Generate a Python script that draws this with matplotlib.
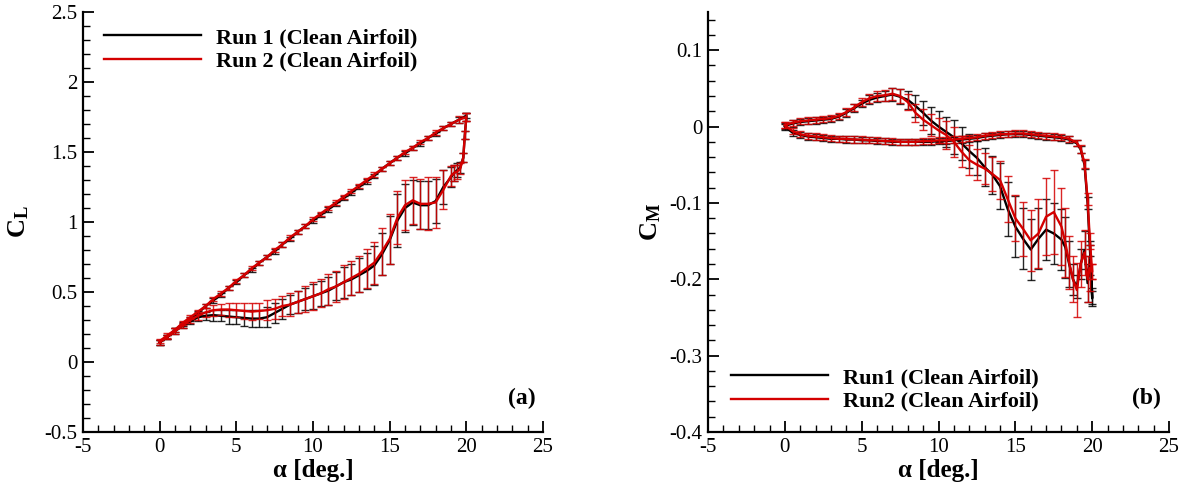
import numpy as np
import matplotlib
matplotlib.use('Agg')
import matplotlib.pyplot as plt
from matplotlib.ticker import MultipleLocator, FormatStrFormatter

plt.rcParams['font.family'] = 'Liberation Serif'
plt.rcParams['mathtext.fontset'] = 'custom'
plt.rcParams['mathtext.rm'] = 'Liberation Serif'
plt.rcParams['mathtext.bf'] = 'Liberation Serif:bold'
plt.rcParams['axes.unicode_minus'] = False

# ---- lift coefficient, pitch up ----
alpha_up = [0, 0.5, 1, 1.5, 2, 2.5, 3, 3.5, 4, 4.5, 5, 5.5, 6, 6.5, 7, 7.5, 8, 8.5, 9, 9.5,
            10, 10.5, 11, 11.5, 12, 12.5, 13, 13.5, 14, 14.5, 15, 15.5, 16, 16.5, 17, 17.5,
            18, 18.5, 19, 19.5, 20]
cl1_up = [0.14, 0.18, 0.23, 0.27, 0.31, 0.35, 0.40, 0.44, 0.48, 0.53, 0.57, 0.62, 0.66, 0.71,
          0.75, 0.79, 0.84, 0.88, 0.93, 0.97, 1.01, 1.05, 1.09, 1.13, 1.17, 1.21, 1.25, 1.29,
          1.33, 1.38, 1.42, 1.46, 1.49, 1.53, 1.56, 1.60, 1.63, 1.67, 1.70, 1.73, 1.76]
cl2_up = [0.15, 0.19, 0.23, 0.28, 0.32, 0.36, 0.40, 0.45, 0.49, 0.53, 0.58, 0.62, 0.67, 0.71,
          0.75, 0.80, 0.84, 0.89, 0.93, 0.97, 1.02, 1.06, 1.10, 1.14, 1.18, 1.22, 1.26, 1.30,
          1.34, 1.38, 1.42, 1.46, 1.50, 1.53, 1.57, 1.60, 1.64, 1.67, 1.70, 1.73, 1.75]
cl1_up_err = [0.015] * 39 + [0.02, 0.02]
cl2_up_err = [0.015] * 39 + [0.025, 0.03]

# ---- lift coefficient, pitch down ----
alpha_dn = [20, 19.9, 19.8, 19.6, 19.4, 19.2, 19, 18.5, 18, 17.5, 17, 16.5, 16, 15.5, 15,
            14.5, 14, 13.5, 13, 12.5, 12, 11.5, 11, 10.5, 10, 9.5, 9, 8.5, 8, 7.5, 7, 6.5,
            6, 5.5, 5, 4.5, 4, 3.5, 3, 2.5, 2, 1.5, 1, 0.5, 0]
cl1_dn = [1.75, 1.62, 1.46, 1.39, 1.37, 1.35, 1.32, 1.25, 1.15, 1.12, 1.12, 1.14, 1.10, 1.01,
          0.87, 0.77, 0.69, 0.65, 0.62, 0.59, 0.57, 0.54, 0.51, 0.49, 0.47, 0.45, 0.43, 0.41,
          0.38, 0.35, 0.32, 0.31, 0.31, 0.315, 0.32, 0.325, 0.33, 0.335, 0.33, 0.32, 0.29,
          0.26, 0.22, 0.18, 0.14]
cl2_dn = [1.75, 1.62, 1.46, 1.38, 1.36, 1.35, 1.33, 1.23, 1.14, 1.13, 1.13, 1.155, 1.12, 1.03,
          0.88, 0.79, 0.71, 0.67, 0.63, 0.60, 0.57, 0.54, 0.52, 0.49, 0.47, 0.45, 0.43, 0.41,
          0.40, 0.38, 0.37, 0.365, 0.36, 0.365, 0.37, 0.375, 0.375, 0.37, 0.355, 0.33, 0.30,
          0.26, 0.22, 0.18, 0.14]
cl1_dn_err = [0.03, 0.03, 0.03, 0.04, 0.05, 0.06, 0.07, 0.12, 0.16, 0.17, 0.17, 0.16, 0.17,
              0.19, 0.17, 0.15, 0.14, 0.13, 0.12, 0.11, 0.11, 0.10, 0.10, 0.09, 0.09, 0.08,
              0.08, 0.07, 0.07, 0.07, 0.07, 0.06, 0.06, 0.06, 0.05, 0.05, 0.04, 0.04, 0.03,
              0.03, 0.02, 0.02, 0.02, 0.015, 0.015]
cl2_dn_err = [0.03, 0.03, 0.03, 0.04, 0.05, 0.06, 0.07, 0.14, 0.18, 0.19, 0.18, 0.17, 0.18,
              0.19, 0.18, 0.17, 0.15, 0.14, 0.13, 0.12, 0.12, 0.11, 0.11, 0.10, 0.10, 0.09,
              0.08, 0.08, 0.07, 0.07, 0.07, 0.06, 0.06, 0.06, 0.05, 0.05, 0.04, 0.04, 0.03,
              0.03, 0.02, 0.02, 0.02, 0.015, 0.015]

# ---- moment coefficient, pitch up ----
alpha_up_m = [0, 0.5, 1, 1.5, 2, 2.5, 3, 3.5, 4, 4.5, 5, 5.5, 6, 6.5, 7, 7.5, 8, 8.5, 9, 9.5,
              10, 10.5, 11, 11.5, 12, 12.5, 13, 13.5, 14, 14.5, 15, 15.5, 16, 16.5, 17, 17.5,
              18, 18.5, 19, 19.25, 19.5, 19.7, 19.85, 20]
cm1_up = [0.000, -0.008, -0.011, -0.013, -0.014, -0.015, -0.016, -0.016, -0.017, -0.017,
          -0.018, -0.018, -0.019, -0.019, -0.020, -0.020, -0.020, -0.020, -0.020, -0.020,
          -0.019, -0.019, -0.018, -0.017, -0.016, -0.015, -0.013, -0.012, -0.011, -0.010,
          -0.010, -0.010, -0.011, -0.012, -0.013, -0.014, -0.015, -0.017, -0.022,
          -0.030, -0.050, -0.100, -0.160, -0.222]
cm2_up = [0.002, -0.006, -0.010, -0.012, -0.013, -0.014, -0.015, -0.016, -0.016, -0.017,
          -0.017, -0.018, -0.018, -0.019, -0.019, -0.020, -0.020, -0.020, -0.019, -0.019,
          -0.018, -0.018, -0.017, -0.016, -0.015, -0.014, -0.012, -0.011, -0.010, -0.010,
          -0.009, -0.009, -0.010, -0.011, -0.012, -0.013, -0.014, -0.016, -0.021,
          -0.029, -0.048, -0.095, -0.150, -0.190]
cm1_up_err = [0.004] * 39 + [0.005, 0.006, 0.008, 0.01, 0.01]
cm2_up_err = [0.004] * 39 + [0.005, 0.006, 0.008, 0.01, 0.01]

# ---- moment coefficient, pitch down ----
alpha_dn_m = [20, 19.85, 19.7, 19.5, 19.25, 19.0, 18.75, 18.5, 18.25, 18, 17.5, 17, 16.5, 16,
              15.5, 15, 14.5, 14, 13.5, 13, 12.5, 12, 11.5, 11, 10.5, 10, 9.5, 9, 8.5, 8,
              7.5, 7, 6.5, 6, 5.5, 5, 4.5, 4, 3.5, 3, 2.5, 2, 1.5, 1, 0.5, 0]
cm1_dn = [-0.225, -0.175, -0.205, -0.162, -0.180, -0.210, -0.200, -0.180, -0.158, -0.148,
          -0.140, -0.135, -0.147, -0.161, -0.147, -0.131, -0.108, -0.078, -0.063, -0.053,
          -0.041, -0.032, -0.022, -0.014, -0.007, 0.000, 0.008, 0.018, 0.027, 0.035,
          0.039, 0.042, 0.040, 0.038, 0.035, 0.030, 0.024, 0.018, 0.013, 0.010,
          0.009, 0.008, 0.007, 0.006, 0.004, 0.001]
cm2_dn = [-0.190, -0.185, -0.200, -0.165, -0.180, -0.214, -0.200, -0.178, -0.152, -0.131,
          -0.112, -0.118, -0.140, -0.149, -0.134, -0.120, -0.095, -0.070, -0.062, -0.055,
          -0.050, -0.044, -0.033, -0.020, -0.011, -0.005, 0.002, 0.009, 0.018, 0.032,
          0.040, 0.043, 0.041, 0.040, 0.037, 0.032, 0.025, 0.019, 0.014, 0.011,
          0.010, 0.009, 0.008, 0.007, 0.005, 0.002]
cm1_dn_err = [0.010, 0.020, 0.025, 0.025, 0.020, 0.015, 0.020, 0.030, 0.040, 0.040,
              0.040, 0.040, 0.040, 0.040, 0.040, 0.040, 0.035, 0.030, 0.025, 0.025,
              0.022, 0.022, 0.022, 0.022, 0.020, 0.020, 0.018, 0.016, 0.014, 0.012,
              0.010, 0.008, 0.007, 0.006, 0.006, 0.005, 0.005, 0.005, 0.004, 0.004,
              0.004, 0.004, 0.004, 0.004, 0.004, 0.004]
cm2_dn_err = [0.010, 0.030, 0.030, 0.030, 0.030, 0.035, 0.030, 0.035, 0.045, 0.050,
              0.055, 0.050, 0.045, 0.040, 0.035, 0.030, 0.030, 0.025, 0.022, 0.020,
              0.020, 0.020, 0.020, 0.020, 0.018, 0.016, 0.015, 0.014, 0.012, 0.010,
              0.009, 0.008, 0.007, 0.006, 0.006, 0.005, 0.005, 0.005, 0.004, 0.004,
              0.004, 0.004, 0.004, 0.004, 0.004, 0.004]

BLACK = '#000000'
RED = '#d40000'


def loop(ax, a_up, a_dn, y_up, y_dn, e_up, e_dn, color, label):
    a = np.concatenate([a_up, a_dn])
    y = np.concatenate([y_up, y_dn])
    e = np.concatenate([e_up, e_dn])
    ax.errorbar(a, y, yerr=e, fmt='none', ecolor=color, elinewidth=1.0,
                capsize=3, capthick=1.0, alpha=0.85)
    ax.plot(a, y, color=color, lw=1.7, label=label)


def style(ax):
    ax.spines['top'].set_visible(False)
    ax.spines['right'].set_visible(False)
    ax.spines['left'].set_linewidth(1.6)
    ax.spines['bottom'].set_linewidth(1.6)
    ax.tick_params(which='major', direction='in', length=8, width=1.3,
                   labelsize=15, pad=4)
    ax.tick_params(which='minor', direction='in', length=5, width=1.0)
    ax.set_xlim(-5, 25)
    ax.xaxis.set_major_locator(MultipleLocator(5))
    ax.xaxis.set_minor_locator(MultipleLocator(1))
    ax.xaxis.set_major_formatter(FormatStrFormatter('%g'))
    ax.yaxis.set_major_formatter(FormatStrFormatter('%g'))
    ax.set_xlabel('α [deg.]', fontsize=18, fontweight='bold', labelpad=2)


fig = plt.figure(figsize=(11.89, 4.93), dpi=100)
ax1 = fig.add_axes([0.0698, 0.1237, 0.3869, 0.8519])
ax2 = fig.add_axes([0.5955, 0.1237, 0.3877, 0.8519])

# (a) lift
loop(ax1, alpha_up, alpha_dn, cl1_up, cl1_dn, cl1_up_err, cl1_dn_err, BLACK, 'Run 1 (Clean Airfoil)')
loop(ax1, alpha_up, alpha_dn, cl2_up, cl2_dn, cl2_up_err, cl2_dn_err, RED, 'Run 2 (Clean Airfoil)')
style(ax1)
ax1.set_ylim(-0.5, 2.5)
ax1.yaxis.set_major_locator(MultipleLocator(0.5))
ax1.yaxis.set_minor_locator(MultipleLocator(0.1))
ax1.set_ylabel(r'$\mathbf{C_L}$', fontsize=19, labelpad=10)
ax1.legend(loc='upper left', bbox_to_anchor=(0.011, 1.0), frameon=False,
           prop={'size': 16, 'weight': 'bold'}, handlelength=4.4,
           handletextpad=0.65, labelspacing=0.12, borderaxespad=0.3)
ax1.text(0.954, 0.081, '(a)', transform=ax1.transAxes, fontsize=17,
         fontweight='bold', ha='center', va='center')

# (b) moment
loop(ax2, alpha_up_m, alpha_dn_m, cm1_up, cm1_dn, cm1_up_err, cm1_dn_err, BLACK, 'Run1 (Clean Airfoil)')
loop(ax2, alpha_up_m, alpha_dn_m, cm2_up, cm2_dn, cm2_up_err, cm2_dn_err, RED, 'Run2 (Clean Airfoil)')
style(ax2)
ax2.set_ylim(-0.4, 0.15)
ax2.yaxis.set_major_locator(MultipleLocator(0.1))
ax2.yaxis.set_minor_locator(MultipleLocator(0.02))
ax2.set_ylabel(r'$\mathbf{C_M}$', fontsize=19, labelpad=5)
ax2.legend(loc='lower left', bbox_to_anchor=(0.015, 0.012), frameon=False,
           prop={'size': 16, 'weight': 'bold'}, handlelength=4.4,
           handletextpad=0.65, labelspacing=0.12, borderaxespad=0.3)
ax2.text(0.952, 0.081, '(b)', transform=ax2.transAxes, fontsize=17,
         fontweight='bold', ha='center', va='center')

fig.savefig('out.png', dpi=100)
